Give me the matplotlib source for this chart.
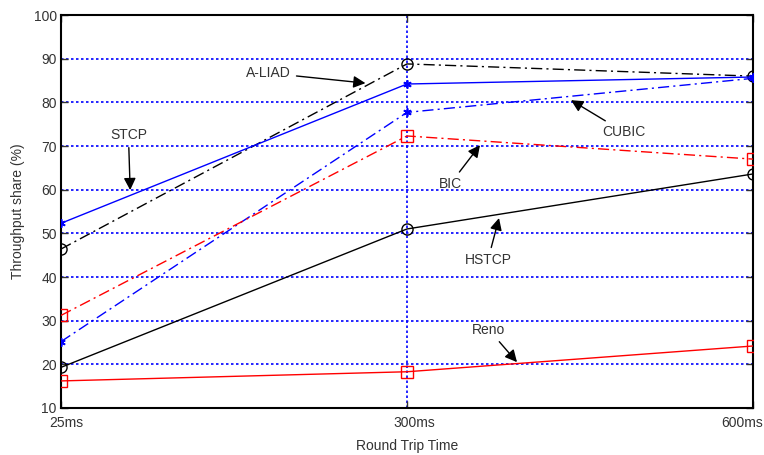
import matplotlib.pyplot as plt
from matplotlib.transforms import ScaledTranslation

plt.rcParams['font.family'] = ['Liberation Sans', 'DejaVu Sans']

rtt_labels = ['25ms', '300ms', '600ms']
aliad = [46.4, 88.8, 86.0]
stcp = [52.3, 84.2, 85.8]
cubic = [25.2, 77.7, 85.5]
bic = [31.2, 72.3, 67.0]
hstcp = [19.3, 51.0, 63.6]
reno = [16.2, 18.3, 24.2]

x = list(range(len(rtt_labels)))
dashdot = (0, (8, 3, 1.5, 3))

fig = plt.figure(figsize=(7.64, 4.55), dpi=100)
ax = fig.add_axes([0.0798, 0.1033, 0.9058, 0.8637])

star = (6, 2, 0)
ax.plot(x, aliad, color='k', ls=dashdot, lw=1, marker='o', mfc='none', ms=8, mew=1, zorder=3)
ax.plot(x, stcp, color='#0000ff', ls='-', lw=1, marker=star, ms=6, mew=1.2, zorder=3)
ax.plot(x, cubic, color='#0000ff', ls=dashdot, lw=1, marker=star, ms=6, mew=1.2, zorder=3)
ax.plot(x, bic, color='#ff0000', ls=dashdot, lw=1, marker='s', mfc='none', ms=9, mew=1, zorder=3)
ax.plot(x, hstcp, color='k', ls='-', lw=1, marker='o', mfc='none', ms=8, mew=1, zorder=3)
ax.plot(x, reno, color='#ff0000', ls='-', lw=1, marker='s', mfc='none', ms=9, mew=1, zorder=3)

# grid: blue dotted
for yv in range(20, 100, 10):
    ax.axhline(yv, color='#0000ff', ls=(0, (1.5, 1.5)), lw=1.2, zorder=1)
ax.axvline(1, color='#0000ff', ls=(0, (1.5, 1.5)), lw=1.2, zorder=1)

ax.set_xlim(0, 2)
ax.set_ylim(10, 100)
ax.set_xticks(x)
ax.set_xticklabels(rtt_labels)
ax.set_yticks(range(10, 101, 10))
ax.tick_params(direction='in', length=5, width=1, labelsize=10, colors='#333333',
               top=True, right=True, pad=3)
ax.tick_params(axis='x', pad=6)
# shift x tick labels like the original
shifts = [5, 7, -11]
for lbl, dx in zip(ax.get_xticklabels(), shifts):
    lbl.set_transform(lbl.get_transform() + ScaledTranslation(dx / 100, 0, fig.dpi_scale_trans))
for s in ax.spines.values():
    s.set_linewidth(1.5)
ax.set_xlabel('Round Trip Time', fontsize=10, color='#333333', labelpad=6)
ax.set_ylabel('Throughput share (%)', fontsize=10, color='#333333', labelpad=6)

arrow = dict(arrowstyle='-|>', color='k', lw=1, mutation_scale=18, shrinkA=2, shrinkB=0)
notes = [
    ('A-LIAD', (0.88, 84.4), (0.6, 86.7)),
    ('STCP', (0.2, 59.9), (0.195, 72.5)),
    ('CUBIC', (1.474, 80.5), (1.627, 73.2)),
    ('BIC', (1.211, 70.2), (1.125, 61.3)),
    ('HSTCP', (1.266, 53.5), (1.234, 43.9)),
    ('Reno', (1.318, 20.5), (1.237, 27.9)),
]
for label, tip, pos in notes:
    ax.annotate(label, xy=tip, xytext=pos, ha='center', va='center', fontsize=10,
                color='#333333', arrowprops=arrow, zorder=4)

fig.savefig('out.png', dpi=100)
